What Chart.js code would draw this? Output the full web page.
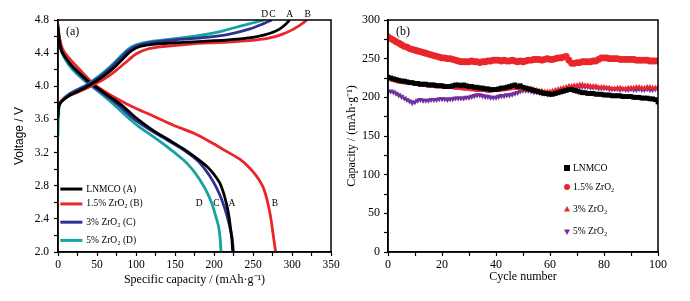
<!DOCTYPE html>
<html>
<head>
<meta charset="utf-8">
<script src="https://cdn.jsdelivr.net/npm/chart.js@4.4.1/dist/chart.umd.min.js"></script>
<style>
  body { margin: 0; background: #fff; }
  #wrap { position: relative; width: 690px; height: 301px; }
  canvas { position: absolute; top: 0; }
  #left { left: 0; }
  #right { left: 345px; }
</style>
</head>
<body>
<div id="wrap">
  <canvas id="left" width="345" height="301"></canvas>
  <canvas id="right" width="345" height="301"></canvas>
</div>
<script>
// (a) charge / discharge curves: [capacity mAh/g, voltage V]
const chargeA = [[0,3.62],[1,3.76],[5,3.82],[15,3.89],[28,3.95],[40,4.01],[55,4.10],[70,4.21],[83,4.33],[93,4.42],[105,4.48],[125,4.51],[160,4.53],[200,4.55],[230,4.57],[255,4.60],[272,4.64],[284,4.69],[292,4.75],[297,4.80]];
const chargeB = [[0,3.70],[1,3.77],[5,3.83],[15,3.89],[28,3.94],[42,4.00],[58,4.08],[73,4.18],[87,4.29],[100,4.39],[115,4.45],[135,4.48],[170,4.51],[210,4.53],[245,4.55],[270,4.58],[288,4.63],[302,4.69],[312,4.75],[319,4.80]];
const chargeC = [[0,3.65],[1,3.77],[5,3.83],[14,3.90],[26,3.96],[38,4.02],[53,4.11],[67,4.22],[80,4.34],[90,4.43],[102,4.49],[120,4.53],[150,4.56],[190,4.59],[220,4.63],[245,4.69],[262,4.75],[274,4.80]];
const chargeD = [[0,3.40],[1,3.72],[5,3.83],[13,3.90],[25,3.96],[37,4.02],[52,4.12],[66,4.23],[79,4.35],[89,4.44],[100,4.50],[118,4.54],[145,4.57],[180,4.61],[212,4.67],[235,4.73],[252,4.77],[264,4.80]];
const dischargeA = [[0,4.72],[2,4.55],[5,4.42],[15,4.28],[25,4.18],[39,4.06],[55,3.95],[70,3.85],[82,3.77],[100,3.62],[120,3.48],[139,3.37],[160,3.25],[178,3.13],[190,3.04],[199,2.95],[207,2.84],[212,2.72],[216,2.58],[219,2.44],[221,2.30],[223,2.15],[224,2.00]];
const dischargeB = [[0,4.75],[2,4.58],[6,4.45],[15,4.33],[28,4.20],[47,4.02],[70,3.88],[94,3.76],[120,3.65],[148,3.53],[175,3.43],[195,3.33],[215,3.22],[233,3.12],[245,3.02],[255,2.91],[262,2.80],[266,2.70],[270,2.55],[273,2.40],[276,2.20],[279,2.00]];
const dischargeC = [[0,4.68],[2,4.52],[5,4.42],[15,4.27],[25,4.17],[37,4.06],[52,3.95],[67,3.85],[80,3.75],[98,3.60],[117,3.48],[135,3.38],[158,3.25],[178,3.11],[190,2.98],[199,2.85],[207,2.70],[214,2.52],[219,2.35],[223,2.18],[225,2.00]];
const dischargeD = [[0,4.65],[2,4.50],[4,4.42],[13,4.27],[23,4.16],[35,4.06],[50,3.95],[63,3.85],[75,3.75],[90,3.62],[104,3.51],[118,3.42],[140,3.27],[161,3.11],[172,3.00],[182,2.87],[190,2.74],[197,2.59],[202,2.44],[206,2.30],[208,2.15],[209,2.00]];
const namesA = ['LNMCO (A)', '1.5% ZrO\u2082 (B)', '3% ZrO\u2082 (C)', '5% ZrO\u2082 (D)'];
const colorsA = ['#000000', '#e8262b', '#2e3192', '#16a3a0'];

// (b) cycling capacity, mAh/g, cycles 0..100
const capLNMCO = [226,225,224,223,222,221,221,220,219,219, 218,218,217,217,217,216,216,216,215,215, 215,214,214,214,215,216,216,215,216,215, 214,214,213,213,212,212,211,211,210,210, 210,211,212,212,213,214,215,216,214,215, 213,212,211,210,209,208,207,206,205,205, 204,204,205,206,207,208,209,210,210,209, 208,207,206,206,205,205,205,204,204,204, 203,203,203,202,202,202,202,201,201,201, 201,200,200,200,199,199,199,198,198,197, 194];
const capZr15 = [278,276,274,272,270,268,266,265,263,262, 261,260,259,258,257,256,255,254,253,252, 251,251,250,250,249,248,247,246,246,246, 246,247,246,246,245,246,246,247,247,248, 248,248,247,248,247,247,248,247,246,247, 246,247,248,248,249,249,249,248,249,250, 249,249,250,251,251,252,253,248,244,244, 245,245,246,246,246,246,247,247,249,251, 251,251,250,250,250,250,249,249,249,249, 249,249,248,248,248,248,248,247,247,247, 247];
const capZr3 = [224,223,222,221,220,220,219,219,218,218, 217,217,216,216,216,215,215,215,214,214, 214,213,213,213,213,212,212,212,211,211, 211,210,210,209,209,209,209,208,208,209, 209,209,210,210,211,211,212,212,212,211, 210,210,211,211,210,209,208,208,207,207, 207,208,209,210,211,212,213,214,214,215, 215,216,216,215,215,214,214,214,213,213, 213,212,212,211,211,212,212,211,211,212, 212,212,213,213,212,212,213,213,212,212, 213];
const capZr5 = [207,208,207,205,203,201,199,197,195,193, 194,196,197,196,196,196,197,197,197,198, 198,198,197,198,198,199,199,199,199,200, 200,201,202,203,203,202,201,201,200,200, 200,201,202,202,203,203,204,205,206,208, 209,209,209,208,207,207,206,205,205,204, 204,205,206,207,208,209,210,211,212,213, 213,214,214,214,214,213,213,213,212,212, 212,212,211,211,211,211,210,211,210,210, 211,210,210,211,210,210,211,210,210,211, 211];
const namesB = ['LNMCO', '1.5% ZrO\u2082', '3% ZrO\u2082', '5% ZrO\u2082'];
const colorsB = ['#000000', '#e8262b', '#e8262b', '#7030a0'];
const cycles = capLNMCO.map((_, i) => i);

const serif = "'Liberation Serif', 'Times New Roman', serif";

function pts(arr) { return arr.map(p => ({ x: p[0], y: p[1] })); }

function marker(ctx, shape, x, y, r, color) {
  ctx.fillStyle = color;
  ctx.beginPath();
  if (shape === 'rect') ctx.rect(x - r, y - r, 2 * r, 2 * r);
  else if (shape === 'circle') ctx.arc(x, y, r, 0, Math.PI * 2);
  else if (shape === 'up') { ctx.moveTo(x, y - r); ctx.lineTo(x + r, y + r * 0.8); ctx.lineTo(x - r, y + r * 0.8); }
  else { ctx.moveTo(x, y + r); ctx.lineTo(x + r, y - r * 0.8); ctx.lineTo(x - r, y - r * 0.8); }
  ctx.closePath();
  ctx.fill();
}

// frame, panel tag, letters and legends
const extras = {
  id: 'extras',
  afterDatasetsDraw(chart, args, opts) {
    const { ctx, chartArea: a, scales } = chart;
    ctx.save();
    ctx.strokeStyle = '#000';
    ctx.lineWidth = 1.5;
    ctx.strokeRect(a.left, a.top, a.right - a.left, a.bottom - a.top);
    ctx.fillStyle = '#000';
    ctx.textBaseline = 'middle';
    ctx.font = '12px ' + serif;
    ctx.fillText(opts.tag, a.left + 8, a.top + 12);
    ctx.font = '9.5px ' + serif;
    ctx.textAlign = 'center';
    (opts.letters || []).forEach(l => {
      ctx.fillText(l[0], scales.x.getPixelForValue(l[1]), scales.y.getPixelForValue(l[2]));
    });
    ctx.textAlign = 'left';
    (opts.legend || []).forEach(it => {
      const x = scales.x.getPixelForValue(it.x);
      const y = scales.y.getPixelForValue(it.y);
      if (it.shape === 'line') {
        ctx.strokeStyle = it.color;
        ctx.lineWidth = 3;
        ctx.beginPath(); ctx.moveTo(x, y); ctx.lineTo(x + 22, y); ctx.stroke();
        ctx.fillStyle = '#000';
        ctx.fillText(it.text, x + 26, y);
      } else {
        marker(ctx, it.shape, x, y, 3, it.color);
        ctx.fillStyle = '#000';
        ctx.fillText(it.text, x + 6, y);
      }
    });
    ctx.restore();
  }
};

function axis(min, max, step, major, fmt, title, titlePad, fit, fontSize, pad) {
  return {
    type: 'linear', min: min, max: max,
    ticks: {
      stepSize: step, autoSkip: false, maxRotation: 0, color: '#000', padding: pad,
      font: { family: serif, size: fontSize },
      callback: v => Math.abs(Math.round(v / step) % Math.round(major / step)) === 0 ? fmt(v) : ''
    },
    grid: { drawOnChartArea: false, tickLength: 4, tickColor: '#000', tickWidth: 1.2 },
    border: { color: '#000', width: 1.5 },
    title: { display: true, text: title.text, color: '#000', font: title.font, padding: titlePad },
    afterFit: fit
  };
}

// (a)
const leftSets = [];
[chargeA, chargeB, chargeC, chargeD].forEach((c, i) => {
  leftSets.push({ data: pts(c), borderColor: colorsA[i], borderWidth: 2.8, showLine: true, pointRadius: 0, tension: 0.3 });
});
[dischargeA, dischargeB, dischargeC, dischargeD].forEach((c, i) => {
  leftSets.push({ data: pts(c), borderColor: colorsA[i], borderWidth: 2.8, showLine: true, pointRadius: 0, tension: 0.3 });
});

new Chart(document.getElementById('left'), {
  type: 'scatter',
  data: { datasets: leftSets },
  options: {
    responsive: false, animation: false,
    layout: { padding: { top: 20, right: 14, left: 0, bottom: 0 } },
    plugins: {
      legend: { display: false }, tooltip: { enabled: false },
      extras: {
        tag: '(a)',
        letters: [['D', 265, 4.87], ['C', 275, 4.87], ['A', 297, 4.87], ['B', 320, 4.87],
                  ['D', 181, 2.58], ['C', 203, 2.58], ['A', 223, 2.58], ['B', 278, 2.58]],
        legend: namesA.map((n, i) => ({ shape: 'line', color: colorsA[i], text: n, x: 3, y: [2.76, 2.58, 2.36, 2.14][i] }))
      }
    },
    scales: {
      x: axis(0, 350, 25, 50, v => v, { text: 'Specific capacity / (mAh\u00b7g\u207b\u00b9)', font: { family: serif, size: 12 } },
              { top: 2, bottom: 14 }, s => { s.height = 49; }, 11.5, 2),
      y: axis(2.0, 4.8, 0.2, 0.4, v => v.toFixed(1), { text: 'Voltage / V', font: { family: "'Liberation Sans', Arial, sans-serif", size: 12 } },
              { top: 12, bottom: 0 }, s => { s.width = 58; }, 11.5, 5)
    }
  },
  plugins: [extras]
});

// (b)
const shapesB = ['rect', 'circle', 'up', 'down'];
const seriesB = [capLNMCO, capZr15, capZr3, capZr5];
const styleB = { rect: ['rect', 0], circle: ['circle', 0], up: ['triangle', 0], down: ['triangle', 180] };
const rightOrder = [0, 2, 3, 1];
const rightSets = rightOrder.map(i => ({
  data: seriesB[i].map((v, k) => ({ x: cycles[k], y: v })),
  showLine: false,
  pointStyle: styleB[shapesB[i]][0],
  rotation: styleB[shapesB[i]][1],
  pointRadius: 3.4,
  borderWidth: 0,
  backgroundColor: colorsB[i],
  borderColor: colorsB[i]
}));

new Chart(document.getElementById('right'), {
  type: 'scatter',
  data: { datasets: rightSets },
  options: {
    responsive: false, animation: false,
    layout: { padding: { top: 20, right: 32, left: 0, bottom: 0 } },
    plugins: {
      legend: { display: false }, tooltip: { enabled: false },
      extras: {
        tag: '(b)',
        legend: namesB.map((n, i) => ({ shape: shapesB[i], color: colorsB[i], text: n, x: 66.3, y: [108.6, 84, 55.6, 26][i] }))
      }
    },
    scales: {
      x: axis(0, 100, 10, 20, v => v, { text: 'Cycle number', font: { family: serif, size: 12 } },
              { top: 0, bottom: 17 }, s => { s.height = 49; }, 12, 2),
      y: axis(0, 300, 25, 50, v => v, { text: 'Capacity / (mAh\u00b7g\u207b\u00b9)', font: { family: serif, size: 12 } },
              { top: 0, bottom: 0 }, s => { s.width = 43; }, 12, 4)
    }
  },
  plugins: [extras]
});
</script>
</body>
</html>
